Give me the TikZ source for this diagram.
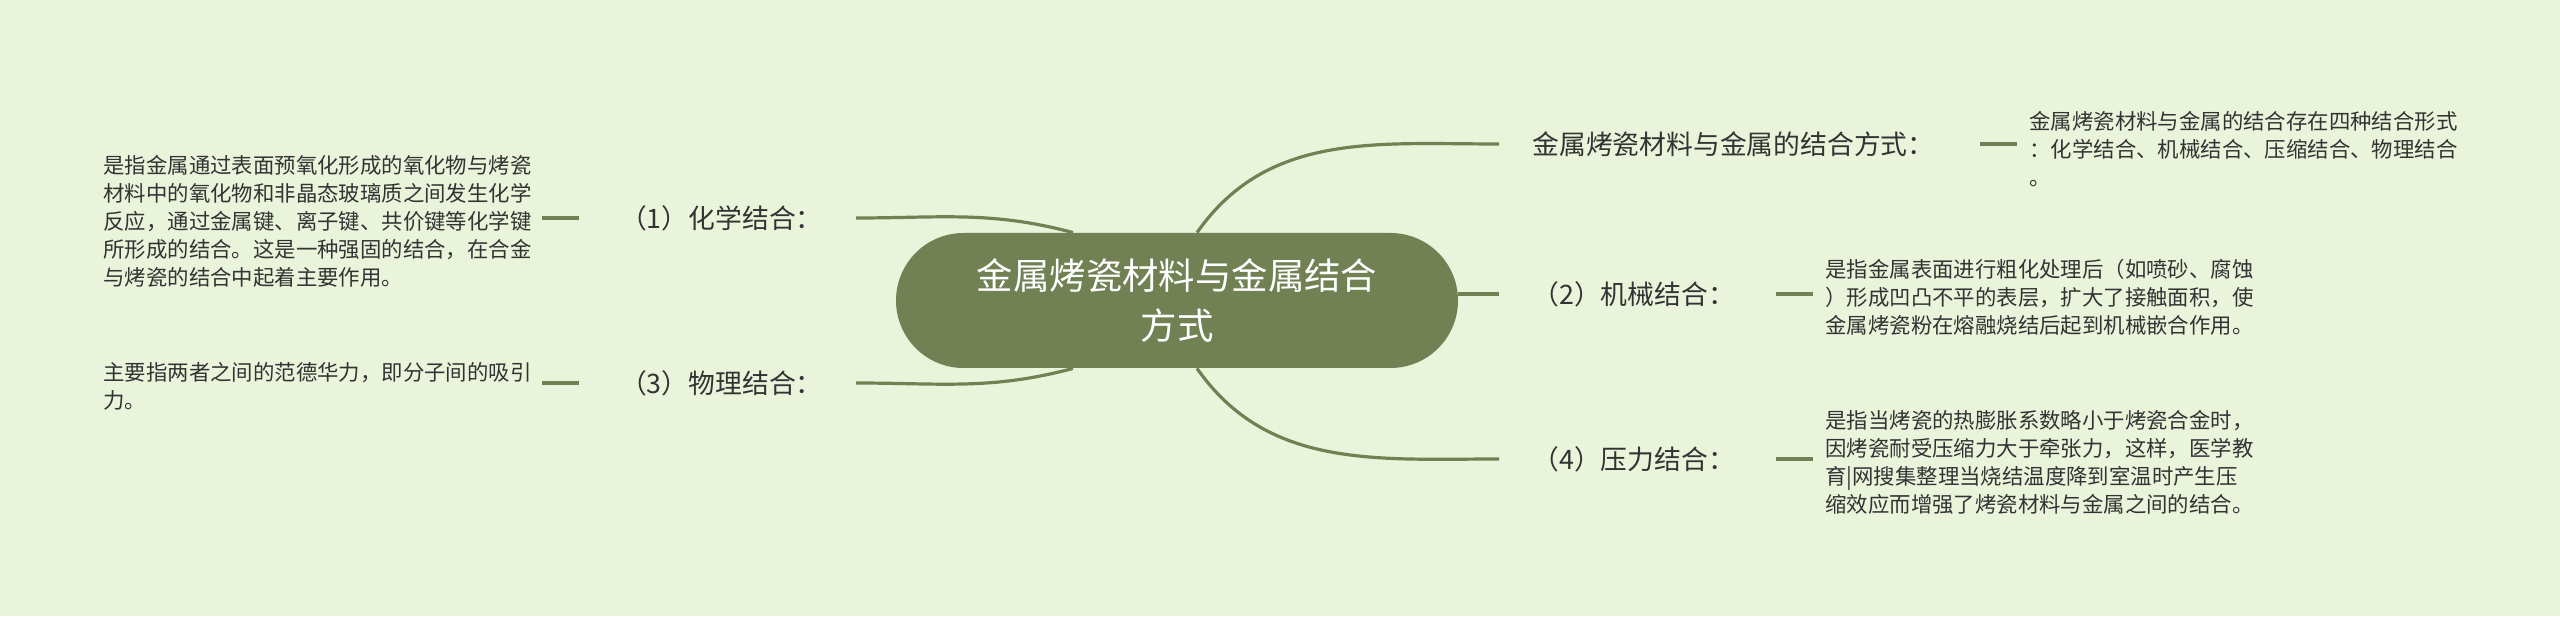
\documentclass[tikz,border=0pt]{standalone}
\usepackage{fontspec}
\usepackage{tikz}
\newfontfamily\cjk{Noto Sans CJK SC}
\definecolor{paper}{HTML}{E9F4DB}
\definecolor{moss}{HTML}{718154}
\definecolor{ink}{HTML}{333333}

\begin{document}
\begin{tikzpicture}[x=0.5pt,y=0.5pt,
	hub/.style={fill=moss, text=white, rounded corners=33.75pt, minimum width=281pt, minimum height=67.5pt, align=center, inner sep=0pt, font={\cjk\fontsize{18.2}{25}\selectfont}},
	topic/.style={text=ink, inner xsep=16.5pt, inner ysep=2pt, font={\cjk\fontsize{13.4}{16}\selectfont}},
	note/.style={text=ink, align=left, inner sep=0pt, font={\cjk\fontsize{10.7}{14}\selectfont}},
	link/.style={draw=moss, line width=1.6pt},
	tick/.style={draw=moss, line width=2pt}]

	\fill[paper] (0,0) rectangle (2560,616);

	\node[hub] (root) at (1177,315.5) {金属烤瓷材料与金属结合\\方式};

	\node[topic, anchor=west] (bond) at (1499,472) {金属烤瓷材料与金属的结合方式：};
	\node[topic, anchor=west] (mech) at (1499,322) {（2）机械结合：};
	\node[topic, anchor=west] (press) at (1499,157) {（4）压力结合：};
	\node[topic, anchor=east] (chem) at (856,398) {（1）化学结合：};
	\node[topic, anchor=east] (phys) at (856,233) {（3）物理结合：};

	\node[note, anchor=west] (bondnote) at (2029,467) {金属烤瓷材料与金属的结合存在四种结合形式\\：化学结合、机械结合、压缩结合、物理结合\\。};
	\node[note, anchor=west] (mechnote) at (1825,319) {是指金属表面进行粗化处理后（如喷砂、腐蚀\\）形成凹凸不平的表层，扩大了接触面积，使\\金属烤瓷粉在熔融烧结后起到机械嵌合作用。};
	\node[note, anchor=west] (pressnote) at (1825,154) {是指当烤瓷的热膨胀系数略小于烤瓷合金时，\\因烤瓷耐受压缩力大于牵张力，这样，医学教\\育|网搜集整理当烧结温度降到室温时产生压\\缩效应而增强了烤瓷材料与金属之间的结合。};
	\node[note, anchor=west] (chemnote) at (103,395) {是指金属通过表面预氧化形成的氧化物与烤瓷\\材料中的氧化物和非晶态玻璃质之间发生化学\\反应，通过金属键、离子键、共价键等化学键\\所形成的结合。这是一种强固的结合，在合金\\与烤瓷的结合中起着主要作用。};
	\node[note, anchor=west] (physnote) at (103,230) {主要指两者之间的范德华力，即分子间的吸引\\力。};

	\draw[link] ([xshift=10pt]root.north) to[out=55,in=180] (bond.west);
	\draw[link] (root.east |- mech.west) -- (mech.west);
	\draw[link] ([xshift=10pt]root.south) to[out=-55,in=180] (press.west);
	\draw[link] ([xshift=-52pt]root.north) to[out=165,in=0] (chem.east);
	\draw[link] ([xshift=-52pt]root.south) to[out=195,in=0] (phys.east);

	\draw[tick, shorten <=6pt, shorten >=6pt] (bond.east) -- (bond.east -| bondnote.west);
	\draw[tick, shorten <=4pt, shorten >=6pt] (mech.east) -- (mech.east -| mechnote.west);
	\draw[tick, shorten <=4pt, shorten >=6pt] (press.east) -- (press.east -| pressnote.west);
	\draw[tick, shorten <=4pt, shorten >=5pt] (chem.west) -- (chem.west -| chemnote.east);
	\draw[tick, shorten <=4pt, shorten >=5pt] (phys.west) -- (phys.west -| physnote.east);

\end{tikzpicture}
\end{document}
